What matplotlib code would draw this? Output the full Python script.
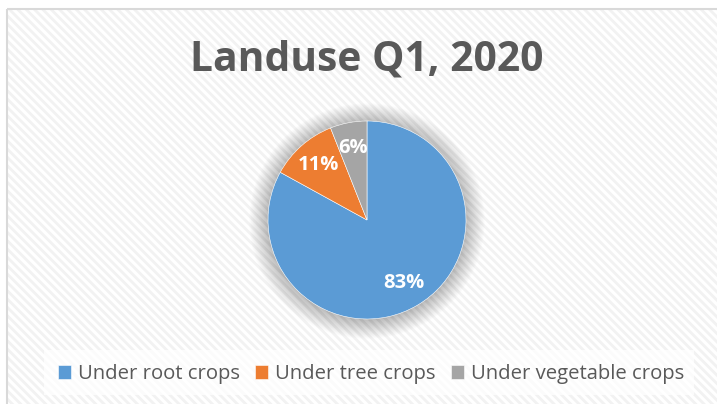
import matplotlib.pyplot as plt
from matplotlib.patches import Rectangle, Circle

# data
categories = ["Under root crops", "Under tree crops", "Under vegetable crops"]
shares = [83, 11, 6]
colors = ["#5b9bd5", "#ed7d31", "#a5a5a5"]
title = "Landuse Q1, 2020"

W, H = 717, 404
fig = plt.figure(figsize=(W / 100, H / 100), dpi=100)
fig.patch.set_facecolor("white")

# chart area with faint diagonal stripes and light border
bg = fig.add_axes([0, 0, 1, 1])
bg.set_xlim(0, W)
bg.set_ylim(H, 0)
bg.axis("off")
plt.rcParams["hatch.linewidth"] = 2.0
bg.add_patch(Rectangle((7, 9), W + 20, H + 20, facecolor="white",
                       edgecolor="#f2f2f2", hatch="\\\\\\\\", lw=0))
bg.add_patch(Rectangle((7, 9), W + 20, H + 20, facecolor="none",
                       edgecolor="#d9d9d9", lw=1.5))
# legend box
bg.add_patch(Rectangle((44, 350), 650, 45, facecolor="white", edgecolor="none", alpha=0.7))

bg.text(367, 60, title, ha="center", va="center", fontsize=29.3,
        fontweight="bold", color="#595959", family="Open Sans")

# pie
cx, cy, r = 367, 220, 99
size = 300
ax = fig.add_axes([(cx - size / 2) / W, (H - cy - size / 2) / H, size / W, size / H])

# soft glow around the pie
for i in range(22):
    ax.add_patch(Circle((0, -0.01), 1.0 + 0.009 * i, facecolor="#000000",
                        alpha=0.011, edgecolor="none", zorder=0))

wedges, texts, autotexts = ax.pie(
    shares, colors=colors, startangle=90, counterclock=False,
    autopct="%1.0f%%", pctdistance=0.74, radius=1.0,
    wedgeprops=dict(edgecolor="white", linewidth=0.4),
    textprops=dict(color="white", fontsize=14.5, fontweight="bold", family="Open Sans"),
)
for w in wedges:
    w.set_zorder(2)
lim = size / 2 / r
ax.set_xlim(-lim, lim)
ax.set_ylim(-lim, lim)
ax.axis("off")

# legend
leg = fig.legend(wedges, categories, loc="center", bbox_to_anchor=(371 / W, 1 - 374 / H),
                 ncol=3, frameon=False, handlelength=0.65, handleheight=0.65,
                 handletextpad=0.35, columnspacing=0.75,
                 prop=dict(family="Open Sans", size=14.6))
for t in leg.get_texts():
    t.set_color("#595959")

fig.savefig("out.png", dpi=100)
